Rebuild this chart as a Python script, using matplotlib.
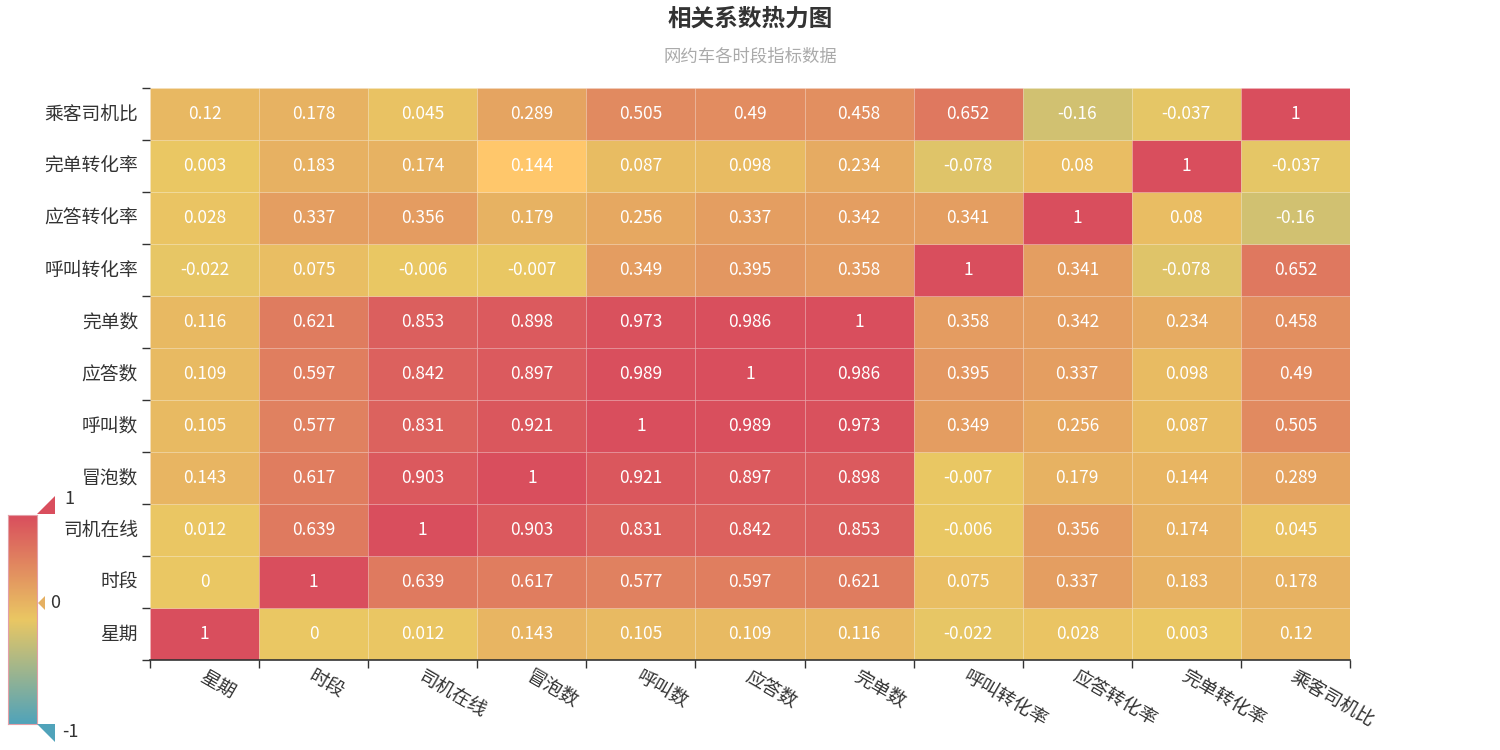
import numpy as np
import matplotlib
import matplotlib.pyplot as plt
from matplotlib.colors import LinearSegmentedColormap, Normalize
from matplotlib.patches import Polygon

matplotlib.use("Agg")

plt.rcParams['font.family'] = ['Noto Sans CJK SC', 'DejaVu Sans']

# 指标（自下而上 / 自左而右）
labels = ['星期', '时段', '司机在线', '冒泡数', '呼叫数', '应答数', '完单数',
          '呼叫转化率', '应答转化率', '完单转化率', '乘客司机比']

# 每行对应 labels 中的一个指标，列顺序同 labels
row_week = [1, 0, 0.012, 0.143, 0.105, 0.109, 0.116, -0.022, 0.028, 0.003, 0.12]
row_hour = [0, 1, 0.639, 0.617, 0.577, 0.597, 0.621, 0.075, 0.337, 0.183, 0.178]
row_driver = [0.012, 0.639, 1, 0.903, 0.831, 0.842, 0.853, -0.006, 0.356, 0.174, 0.045]
row_bubble = [0.143, 0.617, 0.903, 1, 0.921, 0.897, 0.898, -0.007, 0.179, 0.144, 0.289]
row_call = [0.105, 0.577, 0.831, 0.921, 1, 0.989, 0.973, 0.349, 0.256, 0.087, 0.505]
row_answer = [0.109, 0.597, 0.842, 0.897, 0.989, 1, 0.986, 0.395, 0.337, 0.098, 0.49]
row_finish = [0.116, 0.621, 0.853, 0.898, 0.973, 0.986, 1, 0.358, 0.342, 0.234, 0.458]
row_call_rate = [-0.022, 0.075, -0.006, -0.007, 0.349, 0.395, 0.358, 1, 0.341, -0.078, 0.652]
row_answer_rate = [0.028, 0.337, 0.356, 0.179, 0.256, 0.337, 0.342, 0.341, 1, 0.08, -0.16]
row_finish_rate = [0.003, 0.183, 0.174, 0.144, 0.087, 0.098, 0.234, -0.078, 0.08, 1, -0.037]
row_ratio = [0.12, 0.178, 0.045, 0.289, 0.505, 0.49, 0.458, 0.652, -0.16, -0.037, 1]

corr = np.array([row_week, row_hour, row_driver, row_bubble, row_call, row_answer,
                 row_finish, row_call_rate, row_answer_rate, row_finish_rate, row_ratio])

# 鼠标悬停高亮的格子（行, 列）
hover_cell = (9, 3)

cmap = LinearSegmentedColormap.from_list('vm', ['#50a3ba', '#eac763', '#d94e5d'])
norm = Normalize(vmin=-1, vmax=1)

fig = plt.figure(figsize=(15, 7.5), dpi=100)
ax = fig.add_axes([0.1, 0.12, 0.8, 0.7627])

n = len(labels)
colors = cmap(norm(corr))
# 高亮格子颜色变浅
colors[hover_cell] = np.array([1.0, 0.78, 0.42, 1.0])
for i in range(n):
    for j in range(n):
        ax.add_patch(plt.Rectangle((j, i), 1, 1, facecolor=colors[i, j],
                                   edgecolor=(1, 1, 1, 0.12), linewidth=0.6))
        ax.text(j + 0.5, i + 0.5, f"{corr[i, j]:g}", ha='center', va='center',
                color='white', fontsize=12.5)

ax.set_xlim(0, n)
ax.set_ylim(0, n)
ax.set_xticks(np.arange(n + 1))
ax.set_yticks(np.arange(n + 1))
ax.set_xticklabels([])
ax.set_yticklabels([])
ax.tick_params(axis='both', length=6, width=1, color='#333333')
for s in ['top', 'right', 'left']:
    ax.spines[s].set_visible(False)
ax.spines['bottom'].set_color('#333333')
ax.spines['bottom'].set_linewidth(1.2)

for k, lab in enumerate(labels):
    ax.annotate(lab, xy=(0, k + 0.5), xycoords='data', xytext=(-12, 0),
                textcoords='offset pixels', ha='right', va='center',
                fontsize=13.5, color='#333333')
    ax.annotate(lab, xy=(k + 0.5, 0), xycoords='data', xytext=(2, -6),
                textcoords='offset pixels', ha='left', va='top',
                rotation=-30, rotation_mode='anchor',
                fontsize=13.5, color='#333333')

fig.text(0.5, 0.975, '相关系数热力图', ha='center', va='center',
         fontsize=17, fontweight='bold', color='#333333')
fig.text(0.5, 0.924, '网约车各时段指标数据', ha='center', va='center',
         fontsize=12.5, color='#aaaaaa')

# 视觉映射条
cax = fig.add_axes([8 / 1500, 26 / 750, 29 / 1500, 209 / 750])
grad = np.linspace(-1, 1, 256).reshape(-1, 1)
cax.imshow(grad, cmap=cmap, norm=norm, aspect='auto', origin='lower',
           extent=[0, 1, -1, 1])
cax.set_xticks([])
cax.set_yticks([])
for s in cax.spines.values():
    s.set_edgecolor('#e3a0a8')
    s.set_linewidth(0.8)

# 叠加层用于绘制三角形手柄
over = fig.add_axes([0, 0, 1, 1])
over.set_xlim(0, 1500)
over.set_ylim(750, 0)
over.axis('off')
over.add_patch(Polygon([(37, 514), (55, 514), (55, 496)], closed=True,
                       facecolor='#d94e5d', edgecolor='none'))
over.add_patch(Polygon([(37, 724), (55, 724), (55, 742)], closed=True,
                       facecolor='#50a3ba', edgecolor='none'))
over.add_patch(Polygon([(38, 603), (45, 596), (45, 610)], closed=True,
                       facecolor='#e5b062', edgecolor='none'))
over.text(64, 499, '1', ha='left', va='center', fontsize=13, color='#333333')
over.text(62, 732, '-1', ha='left', va='center', fontsize=13, color='#333333')
over.text(50, 603, '0', ha='left', va='center', fontsize=13, color='#333333')

fig.savefig('out.png', dpi=100)
plt.close(fig)
